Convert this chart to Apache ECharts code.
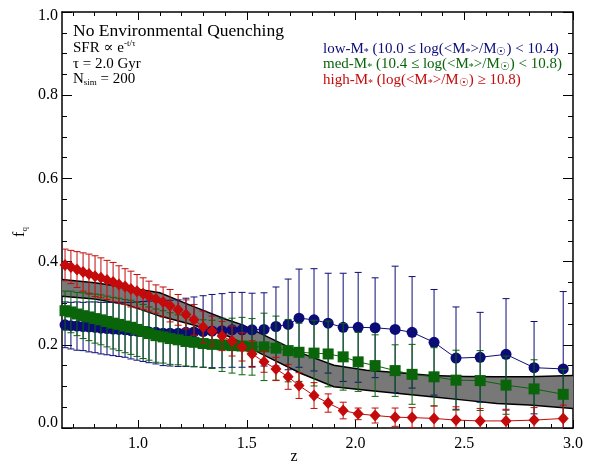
<!DOCTYPE html>
<html>
<head>
<meta charset="utf-8">
<script src="https://cdn.jsdelivr.net/npm/echarts@6/dist/echarts.min.js"></script>
<style>
  html, body { margin: 0; padding: 0; background: #ffffff; }
  #chart { width: 592px; height: 467px; }
</style>
</head>
<body>
<div id="chart"></div>
<script>
// Redshift bins shared by the three stellar-mass samples
const redshift = [0.664,0.691,0.719,0.747,0.774,0.802,0.829,0.857,0.885,0.912,0.940,0.967,0.995,1.023,1.050,1.082,1.115,1.147,1.184,1.220,1.257,1.299,1.340,1.386,1.432,1.478,1.524,1.579,1.634,1.690,1.740,1.809,1.874,1.943,2.012,2.090,2.182,2.260,2.361,2.462,2.573,2.692,2.821,2.955];

// Quenched fraction and 1-sigma errors, low-mass sample
const fqLow  = [0.248,0.246,0.245,0.244,0.243,0.242,0.240,0.239,0.238,0.237,0.236,0.234,0.233,0.232,0.231,0.230,0.228,0.228,0.228,0.230,0.231,0.232,0.233,0.234,0.236,0.236,0.236,0.237,0.244,0.249,0.264,0.260,0.252,0.242,0.242,0.241,0.237,0.230,0.206,0.168,0.170,0.177,0.145,0.142];
const errLow = [0.055,0.056,0.058,0.058,0.060,0.061,0.062,0.063,0.064,0.065,0.066,0.068,0.070,0.072,0.074,0.076,0.078,0.079,0.080,0.082,0.084,0.086,0.088,0.089,0.090,0.090,0.088,0.088,0.095,0.109,0.118,0.123,0.120,0.130,0.132,0.120,0.152,0.134,0.127,0.123,0.108,0.134,0.111,0.186];

// Medium-mass sample
const fqMed  = [0.282,0.279,0.274,0.270,0.267,0.263,0.260,0.256,0.252,0.249,0.245,0.242,0.237,0.232,0.227,0.222,0.219,0.215,0.212,0.208,0.206,0.203,0.201,0.200,0.198,0.197,0.195,0.195,0.192,0.186,0.182,0.180,0.178,0.171,0.159,0.150,0.138,0.129,0.123,0.115,0.114,0.103,0.094,0.081];
const errMed = [0.047,0.050,0.052,0.055,0.057,0.059,0.060,0.061,0.062,0.063,0.064,0.065,0.065,0.065,0.064,0.064,0.063,0.062,0.060,0.059,0.058,0.057,0.058,0.064,0.066,0.069,0.068,0.081,0.077,0.075,0.070,0.079,0.079,0.080,0.071,0.074,0.062,0.072,0.070,0.072,0.072,0.070,0.070,0.060];

// High-mass sample
const fqHigh  = [0.392,0.387,0.381,0.375,0.370,0.365,0.361,0.356,0.351,0.345,0.340,0.334,0.329,0.323,0.317,0.310,0.303,0.294,0.284,0.273,0.260,0.243,0.233,0.221,0.209,0.195,0.178,0.159,0.142,0.123,0.102,0.078,0.060,0.042,0.034,0.030,0.026,0.025,0.023,0.019,0.017,0.017,0.019,0.023];
const errHigh = [0.038,0.040,0.043,0.046,0.048,0.049,0.048,0.047,0.047,0.045,0.043,0.043,0.040,0.038,0.036,0.034,0.036,0.039,0.037,0.035,0.037,0.038,0.036,0.035,0.036,0.034,0.032,0.025,0.028,0.030,0.031,0.031,0.022,0.020,0.014,0.018,0.022,0.024,0.030,0.032,0.030,0.028,0.030,0.032];

// Simulated quenched-fraction envelope (N_sim = 200)
const bandZ     = [0.65,0.80,0.95,1.10,1.25,1.40,1.48,1.56,1.75,1.90,2.05,2.20,2.35,2.50,2.65,2.80,3.00];
const bandUpper = [0.357,0.349,0.338,0.325,0.293,0.262,0.248,0.228,0.180,0.151,0.139,0.133,0.126,0.124,0.123,0.123,0.126];
const bandLower = [0.317,0.310,0.296,0.269,0.248,0.224,0.204,0.180,0.131,0.099,0.091,0.083,0.075,0.067,0.059,0.055,0.047];

// Axis ticks
const xMajorTicks = [1.0,1.5,2.0,2.5,3.0];
const xMinorTicks = [0.7,0.8,0.9,1.1,1.2,1.3,1.4,1.6,1.7,1.8,1.9,2.1,2.2,2.3,2.4,2.6,2.7,2.8,2.9];

const SERIF = '"Liberation Serif", "DejaVu Serif", serif';
const BLUE = '#0c0c78';
const GREEN = '#0a640a';
const RED = '#c40a0a';

const chart = echarts.init(document.getElementById('chart'), null, { renderer: 'canvas' });

function errorBarRenderer(color) {
  return function (params, api) {
    const x = api.value(0);
    const pLo = api.coord([x, api.value(1)]);
    const pHi = api.coord([x, api.value(2)]);
    const hw = 3.5;
    const st = { stroke: color, lineWidth: 1 };
    return {
      type: 'group',
      children: [
        { type: 'line', shape: { x1: pLo[0], y1: pLo[1], x2: pHi[0], y2: pHi[1] }, style: st },
        { type: 'line', shape: { x1: pLo[0] - hw, y1: pLo[1], x2: pLo[0] + hw, y2: pLo[1] }, style: st },
        { type: 'line', shape: { x1: pHi[0] - hw, y1: pHi[1], x2: pHi[0] + hw, y2: pHi[1] }, style: st }
      ]
    };
  };
}

function errorSeries(values, errs, color, z) {
  return {
    type: 'custom',
    clip: true,
    z: z,
    silent: true,
    renderItem: errorBarRenderer(color),
    encode: { x: 0, y: [1, 2] },
    data: redshift.map((r, i) => [r, values[i] - errs[i], values[i] + errs[i]])
  };
}

function markerSeries(values, color, symbol, size, z) {
  return {
    type: 'line',
    z: z,
    silent: true,
    data: redshift.map((r, i) => [r, values[i]]),
    symbol: symbol,
    symbolSize: size,
    showSymbol: true,
    itemStyle: { color: color, borderWidth: 0 },
    lineStyle: { color: color, width: 1 }
  };
}

const bandSeries = {
  type: 'custom',
  clip: true,
  z: 1,
  silent: true,
  encode: { x: 0, y: [1, 2] },
  data: bandZ.map((b, i) => [b, bandLower[i], bandUpper[i]]),
  renderItem: function (params, api) {
    if (params.dataIndex !== 0) return null;
    const up = bandZ.map((b, i) => api.coord([b, bandUpper[i]]));
    const lo = bandZ.map((b, i) => api.coord([b, bandLower[i]]));
    const poly = up.concat(lo.slice().reverse());
    return {
      type: 'group',
      children: [
        { type: 'polygon', shape: { points: poly }, style: { fill: '#787878', stroke: null } },
        { type: 'polyline', shape: { points: up }, style: { stroke: '#000', lineWidth: 1.5, fill: null } },
        { type: 'polyline', shape: { points: lo }, style: { stroke: '#000', lineWidth: 1.5, fill: null } }
      ]
    };
  }
};

const axisLineStyle = { show: true, lineStyle: { color: '#000', width: 1.5 } };

function xAxisDef(position, major, withLabels) {
  return {
    type: 'value', min: 0.65, max: 3.0, position: position,
    axisLine: major ? axisLineStyle : { show: false },
    splitLine: { show: false },
    axisTick: {
      show: true, inside: true, length: major ? 8 : 4,
      customValues: major ? xMajorTicks : xMinorTicks,
      lineStyle: { color: '#000', width: 1 }
    },
    axisLabel: withLabels ? {
      show: true, customValues: xMajorTicks, margin: 8,
      fontFamily: SERIF, fontSize: 16, color: '#000',
      formatter: v => v.toFixed(1)
    } : { show: false }
  };
}

function yAxisDef(position, withLabels) {
  return {
    type: 'value', min: 0, max: 1, interval: 0.2, position: position,
    axisLine: axisLineStyle,
    splitLine: { show: false },
    axisTick: { show: true, inside: true, length: 10, lineStyle: { color: '#000', width: 1 } },
    minorTick: { show: true, splitNumber: 4, length: 5, lineStyle: { color: '#000', width: 1 } },
    minorSplitLine: { show: false },
    axisLabel: withLabels ? {
      show: true, margin: 4,
      formatter: v => {
        const t = v.toFixed(1);
        if (v < 0.01) return '{lo|' + t + '}';
        if (v > 0.99) return '{hi|' + t + '}';
        return '{n|' + t + '}';
      },
      rich: {
        n:  { fontFamily: SERIF, fontSize: 16, color: '#000' },
        lo: { fontFamily: SERIF, fontSize: 16, color: '#000', padding: [0, 0, 11, 0] },
        hi: { fontFamily: SERIF, fontSize: 16, color: '#000', padding: [8, 0, 0, 0] }
      }
    } : { show: false }
  };
}

function rich(size, color) {
  return {
    b: { fontFamily: SERIF, fontSize: size, lineHeight: 17, fill: color },
    t: { fontFamily: SERIF, fontSize: 17.5, lineHeight: 18, fill: color },
    s: { fontFamily: SERIF, fontSize: 9, lineHeight: 9, verticalAlign: 'bottom', fill: color },
    a: { fontFamily: SERIF, fontSize: 10, lineHeight: 10, verticalAlign: 'bottom', fill: color },
    o: { fontFamily: SERIF, fontSize: 11, lineHeight: 11, verticalAlign: 'bottom', fill: color },
    p: { fontFamily: SERIF, fontSize: 9, lineHeight: 9, verticalAlign: 'top', fill: color }
  };
}

function label(x, y, text, color, size) {
  return {
    type: 'text', x: x, y: y, z: 100, silent: true,
    style: { text: text, align: 'left', verticalAlign: 'middle', rich: rich(size || 15, color) }
  };
}

const option = {
  animation: false,
  backgroundColor: '#ffffff',
  grid: { left: 62, right: 19, top: 12, bottom: 39, containLabel: false },
  xAxis: [
    xAxisDef('bottom', true, true),
    xAxisDef('bottom', false, false),
    xAxisDef('top', true, false),
    xAxisDef('top', false, false)
  ],
  yAxis: [
    yAxisDef('left', true),
    yAxisDef('right', false)
  ],
  series: [
    bandSeries,
    errorSeries(fqLow, errLow, BLUE, 2),
    markerSeries(fqLow, BLUE, 'circle', 11, 3),
    errorSeries(fqMed, errMed, GREEN, 4),
    markerSeries(fqMed, GREEN, 'rect', 11, 5),
    errorSeries(fqHigh, errHigh, RED, 6),
    markerSeries(fqHigh, RED, 'diamond', [11, 12], 7)
  ],
  graphic: [
    label(73, 31, '{t|No Environmental Quenching}', '#000'),
    label(73, 48, '{b|SFR ∝ e}{p|-t/τ}', '#000'),
    label(73, 64, '{b|τ = 2.0 Gyr}', '#000'),
    label(73, 79, '{b|N}{s|sim}{b| = 200}', '#000'),
    label(323, 49, '{b|low-M}{a|*}{b| (10.0 ≤ log(<M}{a|*}{b|>/M}{o|☉}{b|) < 10.4)}', BLUE),
    label(323, 64, '{b|med-M}{a|*}{b| (10.4 ≤ log(<M}{a|*}{b|>/M}{o|☉}{b|) < 10.8)}', GREEN),
    label(323, 80, '{b|high-M}{a|*}{b| (log(<M}{a|*}{b|>/M}{o|☉}{b|) ≥ 10.8)}', RED),
    {
      type: 'text', x: 294, y: 457, z: 100, silent: true,
      style: { text: 'z', fontFamily: SERIF, fontSize: 16, fill: '#000', align: 'center', verticalAlign: 'middle' }
    },
    {
      type: 'text', x: 20, y: 232, z: 100, silent: true, rotation: Math.PI / 2,
      style: {
        text: '{b|f}{s|q}', align: 'center', verticalAlign: 'middle',
        rich: {
          b: { fontFamily: SERIF, fontSize: 16, lineHeight: 18, fill: '#000' },
          s: { fontFamily: SERIF, fontSize: 9, lineHeight: 9, verticalAlign: 'bottom', fill: '#000' }
        }
      }
    }
  ]
};

chart.setOption(option);
</script>
</body>
</html>
